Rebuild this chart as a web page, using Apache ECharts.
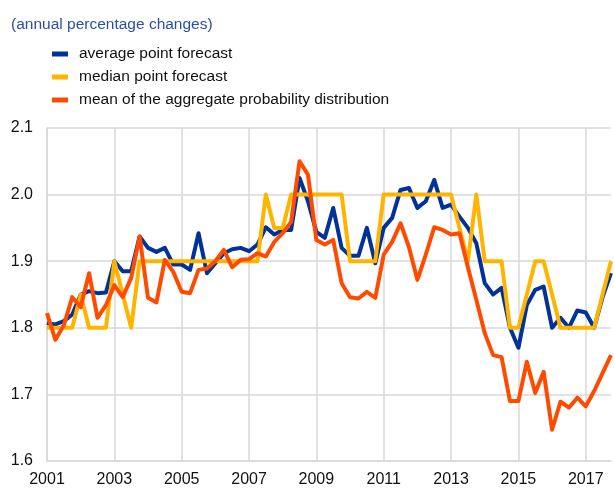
<!DOCTYPE html>
<html>
<head>
<meta charset="utf-8">
<script src="https://cdn.jsdelivr.net/npm/echarts@6/dist/echarts.min.js"></script>
<style>
  html, body { margin: 0; padding: 0; background: #fff; }
  #chart { width: 614px; height: 502px; }
</style>
</head>
<body>
<div id="chart"></div>
<script>
// quarters 2001Q1 .. 2017Q4
const years = ['2001', '2002', '2003', '2004', '2005', '2006', '2007', '2008', '2009',
  '2010', '2011', '2012', '2013', '2014', '2015', '2016', '2017']
const quarters = []
years.forEach(y => { for (let q = 1; q <= 4; q++) quarters.push(y + 'Q' + q) })

const averagePoint = [
  1.807, 1.805, 1.81, 1.82, 1.85, 1.855, 1.852, 1.853,
  1.90, 1.885, 1.885, 1.937, 1.92, 1.914, 1.92, 1.895,
  1.895, 1.887, 1.942, 1.882, 1.897, 1.912, 1.918, 1.92,
  1.915, 1.925, 1.951, 1.94, 1.947, 1.947, 2.025, 1.99,
  1.944, 1.935, 1.98, 1.92, 1.908, 1.908, 1.95, 1.897,
  1.95, 1.965, 2.007, 2.01, 1.98, 1.99, 2.022, 1.98,
  1.985, 1.967, 1.95, 1.927, 1.867, 1.85, 1.86, 1.80,
  1.77, 1.834, 1.857, 1.862, 1.80, 1.815, 1.80, 1.826,
  1.823, 1.80, 1.846, 1.882
]
const medianPoint = [
  1.8, 1.8, 1.8, 1.8, 1.85, 1.8, 1.8, 1.8,
  1.9, 1.85, 1.8, 1.9, 1.9, 1.9, 1.9, 1.9,
  1.9, 1.9, 1.9, 1.9, 1.9, 1.9, 1.9, 1.9,
  1.9, 1.9, 2.0, 1.95, 1.95, 2.0, 2.0, 2.0,
  2.0, 2.0, 2.0, 2.0, 1.9, 1.9, 1.9, 1.9,
  2.0, 2.0, 2.0, 2.0, 2.0, 2.0, 2.0, 2.0,
  2.0, 1.95, 1.9, 2.0, 1.9, 1.9, 1.9, 1.8,
  1.8, 1.85, 1.9, 1.9, 1.85, 1.8, 1.8, 1.8,
  1.8, 1.8, 1.85, 1.9
]
const meanProb = [
  1.822, 1.782, 1.804, 1.846, 1.831, 1.882, 1.815, 1.834,
  1.864, 1.846, 1.875, 1.937, 1.845, 1.838, 1.902, 1.884,
  1.854, 1.852, 1.887, 1.889, 1.90, 1.917, 1.891, 1.902,
  1.903, 1.912, 1.907, 1.929, 1.942, 1.959, 2.05, 2.03,
  1.932, 1.925, 1.932, 1.867, 1.846, 1.844, 1.854, 1.845,
  1.91, 1.929, 1.957, 1.921, 1.872, 1.91, 1.951, 1.947,
  1.94, 1.942, 1.891, 1.842, 1.792, 1.759, 1.756, 1.69,
  1.69, 1.749, 1.702, 1.734, 1.647, 1.689, 1.68, 1.695,
  1.682, 1.705, 1.732, 1.759
]

const chart = echarts.init(document.getElementById('chart'))
const lineSeries = (name, data, color) => ({
  name: name,
  type: 'line',
  data: data,
  symbol: 'none',
  color: color,
  lineStyle: { width: 4, color: color, join: 'round' },
  itemStyle: { color: color }
})

const option = {
  animation: false,
  title: {
    text: '(annual percentage changes)',
    left: 6,
    top: 12,
    textStyle: { color: '#2b4fa3', fontSize: 15.5, fontWeight: 'normal', fontFamily: 'Liberation Sans' }
  },
  legend: {
    orient: 'vertical',
    left: 47,
    top: 41,
    icon: 'rect',
    itemWidth: 16,
    itemHeight: 5,
    itemGap: 7,
    textStyle: { fontSize: 15.5, color: '#111', fontFamily: 'Liberation Sans', padding: [0, 0, 0, 6] }
  },
  grid: { left: 47, right: 3, top: 128, bottom: 41 },
  xAxis: {
    type: 'category',
    data: quarters,
    boundaryGap: false,
    axisLine: { lineStyle: { color: '#d9d9d9', width: 1.5 } },
    axisTick: { show: false },
    axisLabel: {
      interval: 7,
      margin: 11,
      fontSize: 16,
      color: '#111',
      fontFamily: 'Liberation Sans',
      formatter: v => v.slice(0, 4)
    },
    splitLine: { show: true, interval: 7, lineStyle: { color: '#d9d9d9', width: 1.5 } }
  },
  yAxis: {
    type: 'value',
    min: 1.6,
    max: 2.1,
    interval: 0.1,
    axisLine: { show: true, lineStyle: { color: '#d9d9d9', width: 1.5 } },
    axisTick: { show: false },
    axisLabel: {
      margin: 14,
      fontSize: 16,
      color: '#111',
      fontFamily: 'Liberation Sans',
      formatter: v => v.toFixed(1)
    },
    splitLine: { lineStyle: { color: '#d9d9d9', width: 1.5 } }
  },
  series: [
    lineSeries('average point forecast', averagePoint, '#003299'),
    lineSeries('median point forecast', medianPoint, '#ffb400'),
    lineSeries('mean of the aggregate probability distribution', meanProb, '#ff4b00')
  ]
}
option && chart.setOption(option)
</script>
</body>
</html>
